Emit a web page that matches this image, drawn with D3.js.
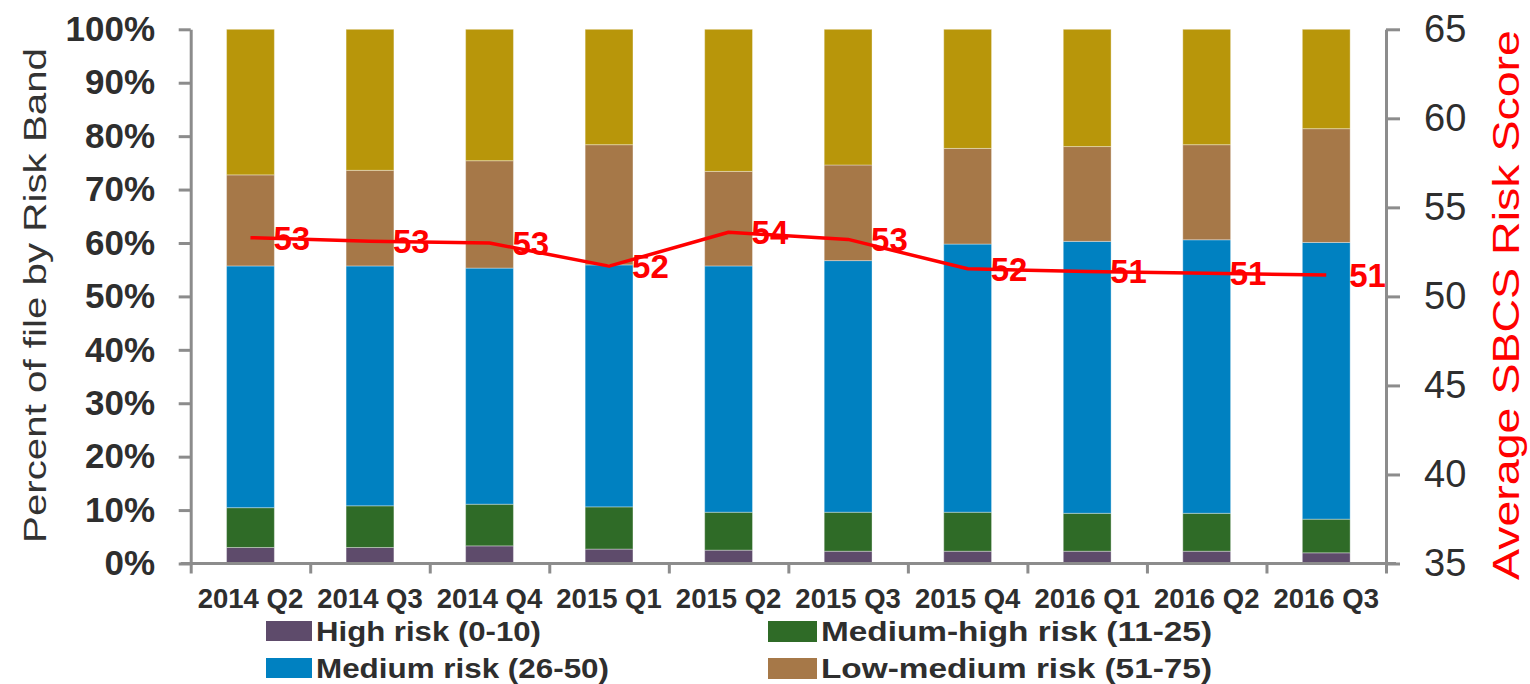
<!DOCTYPE html>
<html>
<head>
<meta charset="utf-8">
<script src="https://cdn.jsdelivr.net/npm/d3@7"></script>
<style>
  html, body { margin: 0; padding: 0; background: #ffffff; }
  svg { display: block; font-family: "Liberation Sans", Arial, sans-serif; }
</style>
</head>
<body>
<svg id="chart" width="1530" height="684"></svg>
<script>
// Quarters on the x axis
const quarters = ["2014 Q2", "2014 Q3", "2014 Q4", "2015 Q1", "2015 Q2",
                  "2015 Q3", "2015 Q4", "2016 Q1", "2016 Q2", "2016 Q3"];

// Share of the file in each risk band (percent)
const highRisk       = [3.0, 3.0, 3.3, 2.7, 2.5, 2.3, 2.3, 2.3, 2.3, 2.0];
const mediumHighRisk = [7.45, 7.8, 7.8, 7.9, 7.1, 7.3, 7.3, 7.1, 7.1, 6.3];
const mediumRisk     = [45.25, 44.9, 44.2, 45.3, 46.1, 47.1, 50.2, 50.9, 51.2, 51.8];
const lowMediumRisk  = [17.05, 17.9, 20.1, 22.5, 17.7, 17.9, 17.9, 17.75, 17.8, 21.3];
const lowRisk        = [27.25, 26.4, 24.6, 21.6, 26.6, 25.4, 22.3, 21.95, 21.6, 18.6];

// Average SBCS risk score per quarter
const avgScore = [53.3, 53.1, 53.0, 51.7, 53.6, 53.2, 51.55, 51.4, 51.3, 51.2];

// Axis ticks
const pctTicks   = [0, 10, 20, 30, 40, 50, 60, 70, 80, 90, 100];
const scoreTicks = [35, 40, 45, 50, 55, 60, 65];

// Series order (bottom to top), colours and legend labels
const seriesKeys   = ["high", "mediumHigh", "medium", "lowMedium", "low"];
const seriesColors = ["#5e4b6b", "#2f6b27", "#0081c1", "#a67848", "#b8960a"];
const legendLabels = ["High risk (0-10)", "Medium-high risk (11-25)",
                      "Medium risk (26-50)", "Low-medium risk (51-75)"];

const table = quarters.map((q, i) => ({
  quarter: q,
  high: highRisk[i],
  mediumHigh: mediumHighRisk[i],
  medium: mediumRisk[i],
  lowMedium: lowMediumRisk[i],
  low: lowRisk[i]
}));

const svg = d3.select("#chart");
const plot = { left: 190.7, right: 1386, top: 29.3, bottom: 563.5 };
const axisGray = "#8c8c8c";
const textDark = "#2e2e2e";

const x = d3.scaleBand()
  .domain(quarters)
  .range([plot.left, plot.right])
  .paddingInner(0.6)
  .paddingOuter(0.3);

const yPct = d3.scaleLinear().domain([0, 100]).range([plot.bottom, plot.top]);
const yScore = d3.scaleLinear().domain([35, 65]).range([plot.bottom, plot.top]);
const color = d3.scaleOrdinal().domain(seriesKeys).range(seriesColors);

// Stacked bars
const stacked = d3.stack().keys(seriesKeys)(table);
svg.append("g")
  .selectAll("g")
  .data(stacked)
  .join("g")
    .attr("fill", d => color(d.key))
  .selectAll("rect")
  .data(d => d)
  .join("rect")
    .attr("x", d => x(d.data.quarter))
    .attr("width", x.bandwidth())
    .attr("y", d => yPct(d[1]))
    .attr("height", d => yPct(d[0]) - yPct(d[1]))
    .attr("stroke", "rgba(255,255,255,0.35)")
    .attr("stroke-width", 1);

// Left percent axis
const leftAxis = svg.append("g")
  .attr("transform", `translate(${plot.left},0)`)
  .call(d3.axisLeft(yPct).tickValues(pctTicks).tickFormat(d => d + "%")
    .tickSize(12).tickSizeOuter(0).tickPadding(23.7));
leftAxis.selectAll("text")
  .attr("font-size", 35).attr("font-weight", "bold").attr("fill", textDark)
  .attr("font-family", "Liberation Sans, Arial, sans-serif");

// Right score axis
const rightAxis = svg.append("g")
  .attr("transform", `translate(${plot.right},0)`)
  .call(d3.axisRight(yScore).tickValues(scoreTicks)
    .tickSize(14).tickSizeOuter(0).tickPadding(24));
rightAxis.selectAll("text")
  .attr("font-size", 38).attr("fill", textDark)
  .attr("font-family", "Liberation Sans, Arial, sans-serif");

// Bottom axis: tick marks at category boundaries, labels under bars
const xEdges = d3.scaleLinear().domain([0, quarters.length]).range([plot.left, plot.right]);
svg.append("g")
  .attr("transform", `translate(0,${plot.bottom})`)
  .call(d3.axisBottom(xEdges).tickValues(d3.range(0, quarters.length + 1))
    .tickFormat("").tickSize(10).tickSizeOuter(0))
  .select(".domain").attr("d", `M${plot.left - 10},0H${plot.right + 10}`);

const bottomAxis = svg.append("g")
  .attr("transform", `translate(0,${plot.bottom})`)
  .call(d3.axisBottom(x).tickSize(0).tickPadding(25));
bottomAxis.select(".domain").remove();
bottomAxis.selectAll("text")
  .attr("font-size", 27.5).attr("font-weight", "bold").attr("fill", textDark)
  .attr("font-family", "Liberation Sans, Arial, sans-serif");

svg.selectAll(".domain, .tick line")
  .attr("stroke", axisGray).attr("stroke-width", 3);

// Average score line with value labels
const cx = q => x(q) + x.bandwidth() / 2;
const line = d3.line()
  .x((d, i) => cx(quarters[i]))
  .y(d => yScore(d));

svg.append("path")
  .datum(avgScore)
  .attr("fill", "none")
  .attr("stroke", "#ff0000")
  .attr("stroke-width", 3.5)
  .attr("stroke-linejoin", "round")
  .attr("d", line);

svg.append("g")
  .selectAll("text")
  .data(avgScore)
  .join("text")
    .attr("x", (d, i) => cx(quarters[i]) + 23)
    .attr("y", d => yScore(d))
    .attr("dy", "0.36em")
    .attr("font-size", 33)
    .attr("font-weight", "bold")
    .attr("fill", "#ff0000")
    .text(d => d3.format(".0f")(d));

// Axis titles
svg.append("text")
  .attr("transform", "translate(46,295.5) rotate(-90)")
  .attr("text-anchor", "middle")
  .attr("font-size", 31)
  .attr("fill", "#333333")
  .attr("textLength", 495)
  .attr("lengthAdjust", "spacingAndGlyphs")
  .text("Percent of file by Risk Band");

svg.append("text")
  .attr("transform", "translate(1519,305) rotate(-90)")
  .attr("text-anchor", "middle")
  .attr("font-size", 36)
  .attr("fill", "#ff0000")
  .attr("textLength", 550)
  .attr("lengthAdjust", "spacingAndGlyphs")
  .text("Average SBCS Risk Score");

// Legend (two columns, two rows): swatch box and text run width per entry
const legendPos = [
  { x: 266, y: 621, w: 46, h: 20, tw: 225 },
  { x: 768, y: 621, w: 49, h: 21, tw: 391 },
  { x: 266, y: 658, w: 46, h: 20, tw: 293 },
  { x: 768, y: 658, w: 49, h: 21, tw: 391 }
];
const legend = svg.append("g")
  .selectAll("g")
  .data(legendLabels)
  .join("g")
    .attr("transform", (d, i) => `translate(${legendPos[i].x},${legendPos[i].y})`);
legend.append("rect")
  .attr("width", (d, i) => legendPos[i].w)
  .attr("height", (d, i) => legendPos[i].h)
  .attr("fill", (d, i) => seriesColors[i]);
legend.append("text")
  .attr("x", (d, i) => legendPos[i].w + 4)
  .attr("y", 20)
  .attr("font-size", 28)
  .attr("font-weight", "bold")
  .attr("fill", textDark)
  .attr("textLength", (d, i) => legendPos[i].tw)
  .attr("lengthAdjust", "spacingAndGlyphs")
  .text(d => d);
</script>
</body>
</html>
